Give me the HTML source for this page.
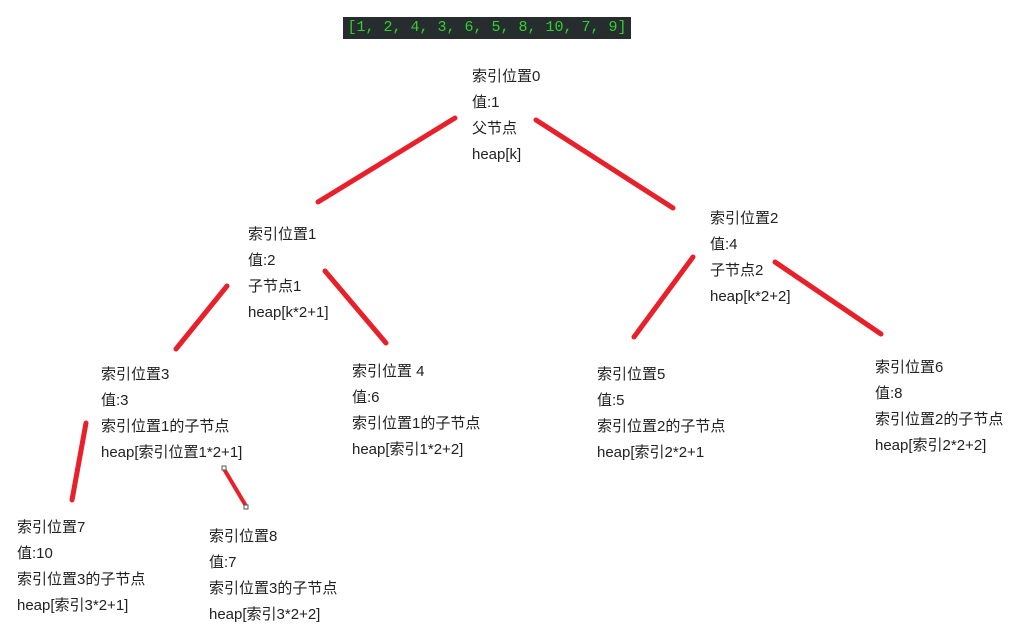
<!DOCTYPE html>
<html><head><meta charset="utf-8"><style>
body{margin:0;width:1024px;height:628px;background:#fff;position:relative;overflow:hidden;font-family:"Liberation Sans","Noto Sans CJK SC",sans-serif;font-size:15px;color:#222}
.n{position:absolute;line-height:26px;white-space:nowrap}
.code{position:absolute;left:343px;top:17px;width:288px;height:22px;background:#272c2f;color:#2fd22f;font-family:"Liberation Mono",monospace;font-size:15px;line-height:22px;text-align:center;white-space:nowrap}
svg{position:absolute;left:0;top:0}
</style></head><body>
<div class="code">[1, 2, 4, 3, 6, 5, 8, 10, 7, 9]</div>
<svg width="1024" height="628"><g stroke="#e8202a" stroke-width="5" stroke-linecap="round">
<line x1="455" y1="118" x2="318" y2="202"/>
<line x1="536" y1="120" x2="673" y2="208"/>
<line x1="227" y1="286" x2="176" y2="349"/>
<line x1="325" y1="271" x2="386" y2="343"/>
<line x1="693" y1="257" x2="634" y2="337"/>
<line x1="775" y1="262" x2="881" y2="334"/>
<line x1="86" y1="423" x2="72" y2="500"/>
<line x1="224" y1="469" x2="246" y2="506" stroke-width="4"/>
</g>
<rect x="222" y="466" width="4" height="4" fill="#fff" stroke="#555"/>
<rect x="244" y="505" width="4" height="4" fill="#fff" stroke="#555"/>
</svg>
<div class="n" style="left:472px;top:64px">索引位置0<br>值:1<br>父节点<br>heap[k]</div>
<div class="n" style="left:248px;top:222px">索引位置1<br>值:2<br>子节点1<br>heap[k*2+1]</div>
<div class="n" style="left:710px;top:206px">索引位置2<br>值:4<br>子节点2<br>heap[k*2+2]</div>
<div class="n" style="left:101px;top:362px">索引位置3<br>值:3<br>索引位置1的子节点<br>heap[索引位置1*2+1]</div>
<div class="n" style="left:352px;top:359px">索引位置 4<br>值:6<br>索引位置1的子节点<br>heap[索引1*2+2]</div>
<div class="n" style="left:597px;top:362px">索引位置5<br>值:5<br>索引位置2的子节点<br>heap[索引2*2+1</div>
<div class="n" style="left:875px;top:355px">索引位置6<br>值:8<br>索引位置2的子节点<br>heap[索引2*2+2]</div>
<div class="n" style="left:17px;top:515px">索引位置7<br>值:10<br>索引位置3的子节点<br>heap[索引3*2+1]</div>
<div class="n" style="left:209px;top:524px">索引位置8<br>值:7<br>索引位置3的子节点<br>heap[索引3*2+2]</div>
</body></html>
